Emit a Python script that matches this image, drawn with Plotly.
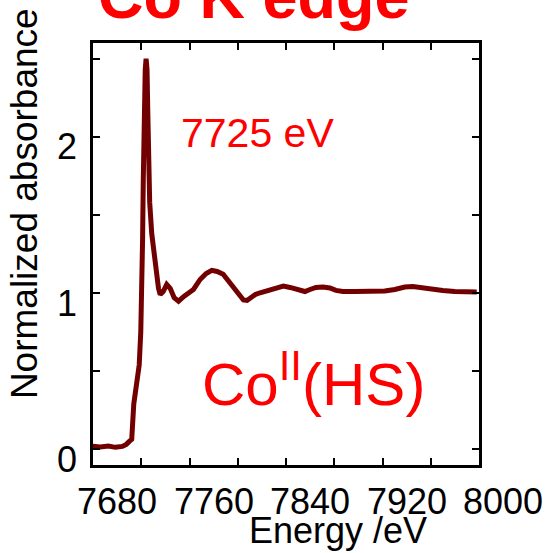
import plotly.graph_objects as go

# ---- data ----
energy = [7639.4, 7646.1, 7652.7, 7658.5, 7664.3, 7667.6, 7670.1, 7672.1, 7673.8, 7674.6,
          7676.7, 7678.3, 7679.6, 7680.4, 7681.1, 7681.7, 7682.5, 7683.3, 7684.0, 7684.8,
          7685.4, 7686.0, 7687.0, 7688.7, 7690.8, 7692.4, 7694.3, 7695.7, 7698.2, 7701.1,
          7704.0, 7707.3, 7710.9, 7715.6, 7723.3, 7728.8, 7733.8, 7738.5, 7742.9, 7747.9,
          7752.0, 7756.1, 7760.3, 7764.7, 7767.7, 7770.2, 7774.3, 7778.5, 7786.8, 7792.3,
          7797.8, 7803.3, 7809.1, 7815.7, 7819.9, 7824.8, 7830.6, 7836.4, 7841.4, 7847.2,
          7857.1, 7865.4, 7873.7, 7881.9, 7890.2, 7898.5, 7905.1, 7910.9, 7919.2, 7930.0,
          7939.9, 7948.1, 7958.1]
absorbance = [0.020, 0.016, 0.022, 0.013, 0.019, 0.032, 0.051, 0.064, 0.29, 0.33,
              0.42, 0.54, 0.75, 0.96, 1.34, 1.73, 2.24, 2.43, 2.50, 2.43,
              2.17, 1.79, 1.58, 1.38, 1.23, 1.12, 1.03, 0.99, 1.01, 1.055,
              1.03, 0.97, 0.948, 0.98, 1.023, 1.087, 1.125, 1.145, 1.138, 1.12,
              1.08, 1.04, 0.99, 0.956, 0.953, 0.97, 0.99, 1.002, 1.019, 1.036,
              1.045, 1.036, 1.023, 1.01, 1.023, 1.036, 1.039, 1.033, 1.017, 1.01,
              1.01, 1.01, 1.007, 1.013, 1.023, 1.039, 1.042, 1.036, 1.023, 1.017,
              1.01, 1.01, 1.007]

x_tick_labels = [7680, 7760, 7840, 7920, 8000]
y_tick_labels = [0, 1, 2]
x_range = [7640, 7960]
y_range = [-0.1, 2.6]

title_text = "Co K edge"
energy_note = "7725 eV"
state_note = "Co<sup>II</sup>(HS)"
x_title = "Energy /eV"
y_title = "Normalized absorbance"

# ---- layout helpers ----
W, H = 547, 553
L, R, T, B = 93, 479, 43.3, 465.5
FONT = "Liberation Sans, Arial, sans-serif"
RED = "#ff0000"


def px_x(px):
    return (px - L) / (R - L)


def px_y(py):
    return (B - py) / (B - T)


def x_to_paper(v):
    # position along the x axis, expressed as a fraction of the axis length
    return (v - x_range[0]) / (x_range[1] - x_range[0])


fig = go.Figure()
fig.add_trace(go.Scatter(x=energy, y=absorbance, mode="lines",
                         line=dict(color="#720000", width=5),
                         showlegend=False, hoverinfo="skip"))

axis_common = dict(showgrid=False, zeroline=False, showline=True, linecolor="black",
                   linewidth=2.5, mirror="ticks", ticks="inside", ticklen=7, tickwidth=2,
                   tickcolor="black", showticklabels=False)

fig.update_layout(
    width=W, height=H,
    margin=dict(l=L, r=W - R, t=T, b=H - B, pad=0),
    paper_bgcolor="white", plot_bgcolor="white",
    xaxis=dict(range=x_range, tick0=7680, dtick=40, **axis_common),
    yaxis=dict(range=y_range, tick0=0, dtick=0.5, **axis_common),
    font=dict(family=FONT, color="black"),
)

ann = []
for v in x_tick_labels:
    ann.append(dict(x=x_to_paper(v), xref="paper", xshift=-24, y=px_y(502), yref="paper",
                    text=str(v), showarrow=False, xanchor="center", yanchor="middle",
                    font=dict(size=36, family=FONT, color="black")))
for v in y_tick_labels:
    ann.append(dict(x=px_x(79), xref="paper", y=v, yref="y", yshift=-10,
                    text=str(v), showarrow=False, xanchor="right", yanchor="middle",
                    font=dict(size=36, family=FONT, color="black")))

ann.append(dict(x=px_x(337.5), xref="paper", y=px_y(531), yref="paper",
                text=x_title, showarrow=False, xanchor="center", yanchor="middle",
                font=dict(size=36, family=FONT, color="black")))
ann.append(dict(x=px_x(24), xref="paper", y=px_y(204.5), yref="paper",
                text=y_title, showarrow=False, textangle=-90,
                xanchor="center", yanchor="middle",
                font=dict(size=37, family=FONT, color="black")))
ann.append(dict(x=px_x(253.5), xref="paper", y=px_y(-4), yref="paper",
                text="<b>" + title_text + "</b>", showarrow=False,
                xanchor="center", yanchor="middle",
                font=dict(size=63, family=FONT, color=RED)))
ann.append(dict(x=px_x(257.5), xref="paper", y=px_y(133), yref="paper",
                text=energy_note, showarrow=False, xanchor="center", yanchor="middle",
                font=dict(size=41, family=FONT, color=RED)))
ann.append(dict(x=px_x(313), xref="paper", y=px_y(380), yref="paper",
                text=state_note, showarrow=False, xanchor="center", yanchor="middle",
                font=dict(size=60, family=FONT, color=RED)))

fig.update_layout(annotations=ann)
fig.write_html("out.html")
